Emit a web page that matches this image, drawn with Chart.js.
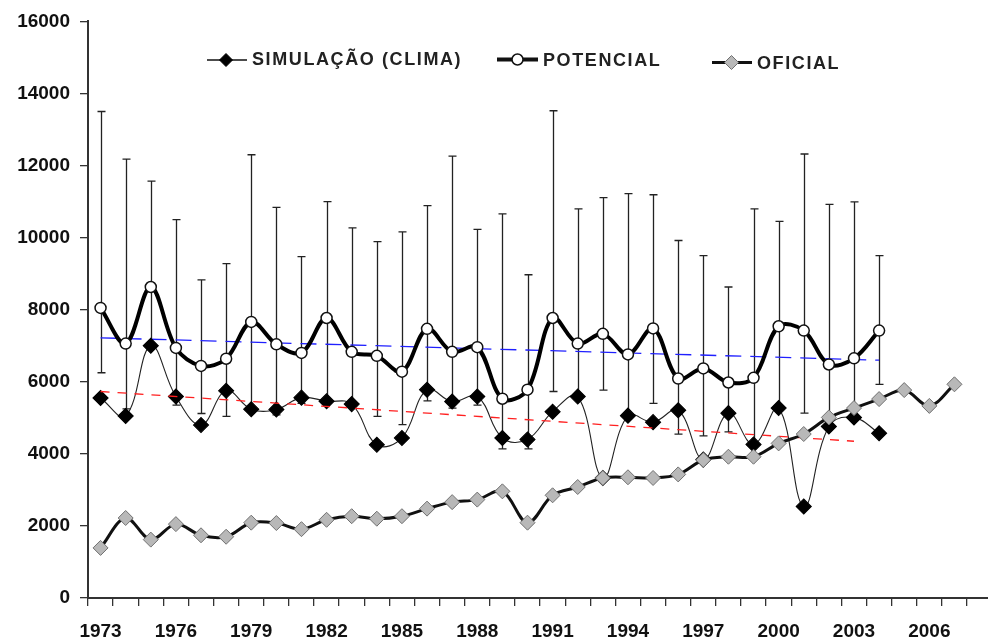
<!DOCTYPE html>
<html>
<head>
<meta charset="utf-8">
<script src="https://cdn.jsdelivr.net/npm/chart.js@4"></script>
<style>
  body { margin: 0; background: #fff; }
  #wrap { width: 988px; height: 644px; }
</style>
</head>
<body>
<div id="wrap"><canvas id="lineChart"></canvas></div>
<script>
"use strict"

// anos (categorias)
const years = [1973, 1974, 1975, 1976, 1977, 1978, 1979, 1980, 1981, 1982, 1983, 1984,
  1985, 1986, 1987, 1988, 1989, 1990, 1991, 1992, 1993, 1994, 1995, 1996, 1997, 1998,
  1999, 2000, 2001, 2002, 2003, 2004, 2005, 2006, 2007];

// séries
const simulacao = [5550, 5050, 7000, 5590, 4800, 5750, 5240, 5230, 5560, 5460, 5380, 4250,
  4440, 5780, 5450, 5590, 4440, 4400, 5170, 5590, 3330, 5060, 4880, 5210, 3840, 5130,
  4260, 5270, 2540, 4760, 5010, 4570];
const potencial = [8050, 7060, 8630, 6940, 6440, 6640, 7660, 7040, 6800, 7770, 6830, 6720,
  6280, 7470, 6830, 6960, 5530, 5780, 7770, 7060, 7330, 6760, 7480, 6090, 6370, 5980,
  6110, 7540, 7420, 6480, 6650, 7420];
const oficial = [1390, 2220, 1620, 2050, 1740, 1700, 2090, 2080, 1910, 2170, 2270, 2200,
  2270, 2480, 2660, 2730, 2960, 2090, 2850, 3080, 3330, 3350, 3330, 3430, 3830, 3920,
  3920, 4290, 4550, 5010, 5270, 5520, 5770, 5330, 5930];

// barras de erro do potencial
const potUpper = [13500, 12180, 11570, 10500, 8830, 9280, 12300, 10840, 9470, 11000, 10270, 9890,
  10160, 10890, 12260, 10230, 10660, 8970, 13520, 10800, 11110, 11220, 11190, 9920, 9500, 8630,
  10800, 10450, 12320, 10920, 10990, 9500];
const potLower = [6250, 5250, 6950, 5350, 5120, 5040, 5250, 5080, 5400, 5400, 5350, 5040,
  4810, 5470, 5270, 5350, 4140, 4140, 5730, 5650, 5770, 5050, 5400, 4550, 4500, 4610,
  4300, 5250, 5130, 5000, 5300, 5930];

// linhas de tendência (pontos extremos)
const trendPotencial = { start: [1973, 7220], end: [2004, 6600] };
const trendSimulacao = { start: [1973, 5730], end: [2003, 4350] };

// eixo y
const yTicks = [0, 2000, 4000, 6000, 8000, 10000, 12000, 14000, 16000];

/*---------------------------------*/

function trendData(t) {
  return years.map(yr => yr === t.start[0] ? t.start[1] : (yr === t.end[0] ? t.end[1] : null));
}

const AXIS = '#333';
const FONT = '"Liberation Sans", Arial, sans-serif';

function drawDiamond(ctx, x, y, r, fill, stroke) {
  ctx.beginPath();
  ctx.moveTo(x, y - r);
  ctx.lineTo(x + r, y);
  ctx.lineTo(x, y + r);
  ctx.lineTo(x - r, y);
  ctx.closePath();
  ctx.fillStyle = fill;
  ctx.fill();
  ctx.strokeStyle = stroke;
  ctx.lineWidth = 1;
  ctx.stroke();
}

const extras = {
  id: 'extras',
  beforeDatasetsDraw(chart) {
    const ctx = chart.ctx;
    const x = chart.scales.x, y = chart.scales.y;
    ctx.save();
    ctx.strokeStyle = '#222';
    ctx.lineWidth = 1.3;
    potUpper.forEach((up, i) => {
      const px = Math.round(x.getPixelForValue(i)) + 0.5;
      const yTop = y.getPixelForValue(up);
      const yBot = y.getPixelForValue(potLower[i]);
      ctx.beginPath();
      ctx.moveTo(px, yTop); ctx.lineTo(px, yBot);
      ctx.moveTo(px - 4, yTop); ctx.lineTo(px + 4, yTop);
      ctx.moveTo(px - 4, yBot); ctx.lineTo(px + 4, yBot);
      ctx.stroke();
    });
    ctx.restore();
  },
  afterDraw(chart) {
    const ctx = chart.ctx;
    const area = chart.chartArea;
    ctx.save();
    // prolongamento do eixo x
    ctx.strokeStyle = AXIS; ctx.lineWidth = 2;
    ctx.beginPath(); ctx.moveTo(area.right - 1, area.bottom); ctx.lineTo(988, area.bottom); ctx.stroke();

    ctx.font = 'bold 18px ' + FONT;
    ctx.letterSpacing = '1.6px';
    ctx.textBaseline = 'alphabetic';
    ctx.fillStyle = '#222';

    // SIMULAÇÃO
    ctx.strokeStyle = '#111'; ctx.lineWidth = 1.5;
    ctx.beginPath(); ctx.moveTo(207, 60); ctx.lineTo(247, 60); ctx.stroke();
    drawDiamond(ctx, 226, 60, 6.5, '#000', '#000');
    ctx.fillStyle = '#222';
    ctx.fillText('SIMULAÇÃO (CLIMA)', 252, 65);

    // POTENCIAL
    ctx.strokeStyle = '#111'; ctx.lineWidth = 4;
    ctx.beginPath(); ctx.moveTo(497, 59.5); ctx.lineTo(538, 59.5); ctx.stroke();
    ctx.beginPath(); ctx.arc(517.5, 59.5, 5.5, 0, Math.PI * 2);
    ctx.fillStyle = '#fff'; ctx.fill();
    ctx.lineWidth = 1.5; ctx.strokeStyle = '#111'; ctx.stroke();
    ctx.fillStyle = '#222';
    ctx.fillText('POTENCIAL', 543, 65.5);

    // OFICIAL
    ctx.strokeStyle = '#111'; ctx.lineWidth = 3;
    ctx.beginPath(); ctx.moveTo(712, 62.5); ctx.lineTo(752, 62.5); ctx.stroke();
    drawDiamond(ctx, 731.5, 62.5, 7, '#b8b8b8', '#707070');
    ctx.fillStyle = '#222';
    ctx.fillText('OFICIAL', 757, 68.5);
    ctx.restore();
  }
};

new Chart(document.getElementById('lineChart'), {
  type: 'line',
  data: {
    labels: years,
    datasets: [
      {
        label: 'OFICIAL',
        data: oficial,
        borderColor: '#111',
        borderWidth: 3,
        tension: 0.35,
        pointStyle: 'rectRot',
        pointRadius: 7.5,
        pointBackgroundColor: '#b8b8b8',
        pointBorderColor: '#707070',
        pointBorderWidth: 1,
        order: 1
      },
      {
        label: 'tendência simulação',
        data: trendData(trendSimulacao),
        borderColor: '#ff2020',
        borderWidth: 1.3,
        borderDash: [9, 8],
        pointRadius: 0,
        spanGaps: true,
        order: 2
      },
      {
        label: 'SIMULAÇÃO (CLIMA)',
        data: simulacao,
        borderColor: '#222',
        borderWidth: 1.1,
        tension: 0.4,
        pointStyle: 'rectRot',
        pointRadius: 7.5,
        pointBackgroundColor: '#000',
        pointBorderColor: '#000',
        order: 3
      },
      {
        label: 'POTENCIAL',
        data: potencial,
        borderColor: '#000',
        borderWidth: 4,
        tension: 0.35,
        pointStyle: 'circle',
        pointRadius: 5.5,
        pointBackgroundColor: '#fff',
        pointBorderColor: '#111',
        pointBorderWidth: 1.5,
        order: 4
      },
      {
        label: 'tendência potencial',
        data: trendData(trendPotencial),
        borderColor: '#2020ff',
        borderWidth: 1.3,
        borderDash: [16, 9],
        pointRadius: 0,
        spanGaps: true,
        order: 5
      }
    ]
  },
  options: {
    responsive: true,
    maintainAspectRatio: false,
    animation: false,
    layout: { padding: { top: 19, right: 21, left: 0, bottom: 0 } },
    plugins: {
      legend: { display: false },
      tooltip: { enabled: false }
    },
    scales: {
      x: {
        offset: true,
        border: { color: AXIS, width: 2 },
        grid: { display: true, drawOnChartArea: false, drawTicks: true, tickLength: 8, color: AXIS, lineWidth: 1.3, offset: true },
        ticks: {
          autoSkip: false,
          maxRotation: 0,
          padding: 14,
          color: '#111',
          font: { family: FONT, size: 19, weight: 'bold' },
          callback: function(value, index) {
            return (years[index] - 1973) % 3 === 0 ? String(years[index]) : '';
          }
        },
        afterFit: function(scale) { scale.height = 46; }
      },
      y: {
        min: 0,
        max: 16000,
        border: { color: AXIS, width: 2 },
        grid: { display: true, drawOnChartArea: false, drawTicks: true, tickLength: 8, color: AXIS, lineWidth: 1.3 },
        afterBuildTicks: function(scale) { scale.ticks = yTicks.map(v => ({ value: v })); },
        ticks: {
          padding: 10,
          color: '#111',
          font: { family: FONT, size: 19, weight: 'bold' },
          callback: function(value) { return String(value); }
        },
        afterFit: function(scale) { scale.width = 88; }
      }
    }
  },
  plugins: [extras]
});
</script>
</body>
</html>
